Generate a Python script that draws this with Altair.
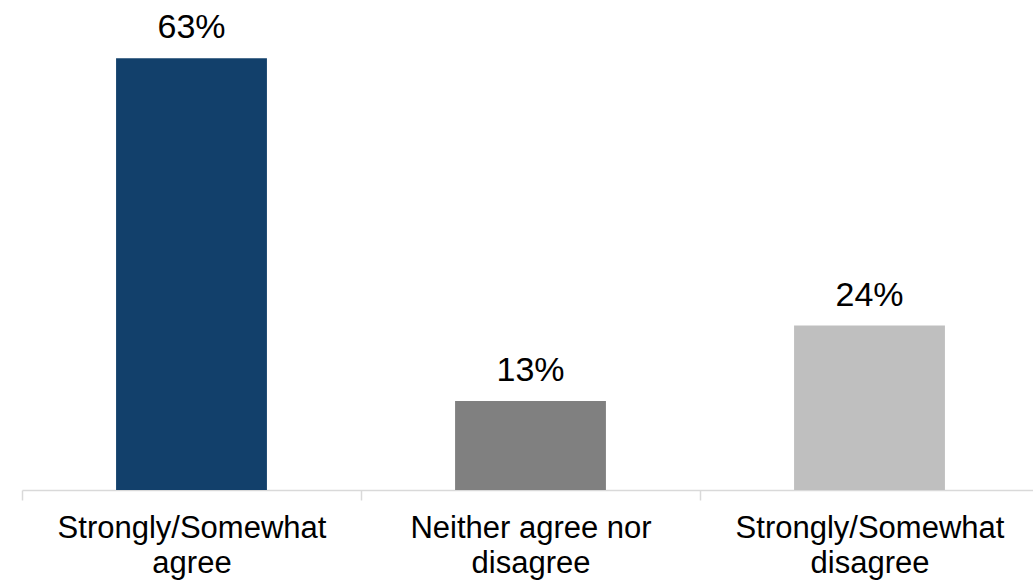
import altair as alt
import pandas as pd

# Survey response shares
categories = ["Strongly/Somewhat agree", "Neither agree nor disagree", "Strongly/Somewhat disagree"]
shares = [63, 13, 24]
label_lines = [["Strongly/Somewhat", "agree"], ["Neither agree nor", "disagree"], ["Strongly/Somewhat", "disagree"]]
bar_colors = ["#12406B", "#808080", "#BFBFBF"]

df = pd.DataFrame({"category": categories, "share": shares})
df["text"] = df["share"].astype(str) + "%"

# Build the two-line axis labels as a nested conditional expression
label_expr = "datum.label"
for cat, lines in reversed(list(zip(categories, label_lines))):
    arr = "[" + ", ".join(f"'{l}'" for l in lines) + "]"
    label_expr = f"datum.label == '{cat}' ? {arr} : ({label_expr})"

FONT = "Liberation Sans"

# Bands fill the whole step so the ticks sit between categories
x_scale = alt.Scale(range=[0, 1017], paddingInner=0, paddingOuter=0)

x_axis = alt.Axis(
    labelAngle=0,
    labelExpr=label_expr,
    labelFont=FONT,
    labelFontSize=31,
    labelColor="#000000",
    labelLineHeight=35,
    labelBaseline="top",
    labelPadding=13,
    labelLimit=500,
    tickBand="extent",
    tickSize=10,
    tickColor="#D9D9D9",
    tickWidth=1.5,
    domainColor="#D9D9D9",
    domainWidth=1.5,
    grid=False,
)

x = alt.X("category:N", sort=categories, title=None, scale=x_scale, axis=x_axis)

y = alt.Y(
    "share:Q",
    scale=alt.Scale(domain=[0, 71.5], nice=False),
    axis=None,
)

bars = alt.Chart(df).mark_bar(width=alt.RelativeBandSize(0.445)).encode(
    x=x,
    y=y,
    color=alt.Color("category:N", scale=alt.Scale(domain=categories, range=bar_colors), legend=None),
)

texts = alt.Chart(df).mark_text(
    font=FONT, fontSize=34, color="#000000", baseline="alphabetic", dy=-20
).encode(
    x=x,
    y=y,
    text="text:N",
)

chart = (
    alt.layer(bars, texts)
    .properties(
        width=1011,
        height=490,
        background="#FFFFFF",
        autosize=alt.AutoSizeParams(type="none"),
        padding={"left": 22, "top": 0, "right": 0, "bottom": 90},
    )
    .configure_view(strokeWidth=0)
    .configure_axisX(tickBand="extent")
)

chart.save("out.html", embed_options={"renderer": "svg", "actions": False})
